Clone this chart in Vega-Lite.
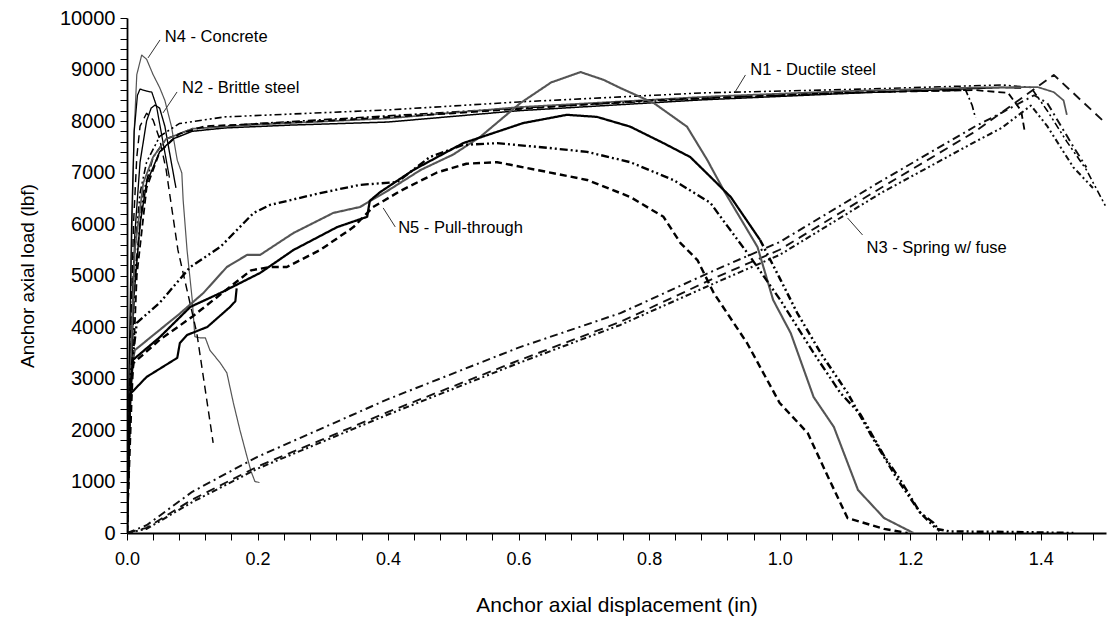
{
  "$schema": "https://vega.github.io/schema/vega-lite/v6.json",
  "width": 979,
  "height": 515,
  "autosize": {"type": "none"},
  "padding": {"left": 127, "top": 18, "right": 2, "bottom": 88},
  "background": "white",
  "config": {"view": {"stroke": null}},
  "datasets": {
    "curves": [
      {"s":"n4","x":0,"y":0},{"s":"n4","x":0.003,"y":2500},{"s":"n4","x":0.007,"y":5500},{"s":"n4","x":0.011,"y":7800},{"s":"n4","x":0.015,"y":8900},{"s":"n4","x":0.0225,"y":9280},{"s":"n4","x":0.03,"y":9200},{"s":"n4","x":0.04,"y":8900},{"s":"n4","x":0.05,"y":8650},{"s":"n4","x":0.058,"y":8400},{"s":"n4","x":0.068,"y":7900},{"s":"n4","x":0.077,"y":7240},{"s":"n4","x":0.084,"y":6990},{"s":"n4","x":0.086,"y":6470},{"s":"n4","x":0.092,"y":5495},{"s":"n4","x":0.1,"y":4525},{"s":"n4","x":0.104,"y":3810},{"s":"n4","x":0.112,"y":3790},{"s":"n4","x":0.12,"y":3790},{"s":"n4","x":0.127,"y":3550},{"s":"n4","x":0.143,"y":3300},{"s":"n4","x":0.153,"y":3110},{"s":"n4","x":0.163,"y":2525},{"s":"n4","x":0.173,"y":2000},{"s":"n4","x":0.184,"y":1475},{"s":"n4","x":0.19,"y":1200},{"s":"n4","x":0.196,"y":1000},{"s":"n4","x":0.203,"y":980},

      {"s":"n2a","x":0,"y":0},{"s":"n2a","x":0.003,"y":3000},{"s":"n2a","x":0.007,"y":6000},{"s":"n2a","x":0.011,"y":7800},{"s":"n2a","x":0.016,"y":8500},{"s":"n2a","x":0.02,"y":8620},{"s":"n2a","x":0.03,"y":8580},{"s":"n2a","x":0.038,"y":8560},{"s":"n2a","x":0.045,"y":8300},{"s":"n2a","x":0.055,"y":7600},{"s":"n2a","x":0.065,"y":6900},

      {"s":"n2b","x":0,"y":0},{"s":"n2b","x":0.005,"y":3000},{"s":"n2b","x":0.012,"y":5800},{"s":"n2b","x":0.02,"y":7200},{"s":"n2b","x":0.03,"y":8000},{"s":"n2b","x":0.037,"y":8250},{"s":"n2b","x":0.043,"y":8310},{"s":"n2b","x":0.05,"y":8250},{"s":"n2b","x":0.058,"y":7900},{"s":"n2b","x":0.065,"y":7400},{"s":"n2b","x":0.075,"y":6700},

      {"s":"n2c","x":0,"y":0},{"s":"n2c","x":0.005,"y":3500},{"s":"n2c","x":0.01,"y":6000},{"s":"n2c","x":0.015,"y":7300},{"s":"n2c","x":0.02,"y":7900},{"s":"n2c","x":0.03,"y":8150},{"s":"n2c","x":0.04,"y":8020},{"s":"n2c","x":0.05,"y":7650},{"s":"n2c","x":0.06,"y":7050},{"s":"n2c","x":0.078,"y":5496},{"s":"n2c","x":0.107,"y":3880},{"s":"n2c","x":0.132,"y":1750},

      {"s":"n1a","x":0,"y":0},{"s":"n1a","x":0.005,"y":2500},{"s":"n1a","x":0.01,"y":4500},{"s":"n1a","x":0.02,"y":6000},{"s":"n1a","x":0.03,"y":6800},{"s":"n1a","x":0.05,"y":7400},{"s":"n1a","x":0.07,"y":7650},{"s":"n1a","x":0.1,"y":7800},{"s":"n1a","x":0.15,"y":7865},{"s":"n1a","x":0.25,"y":7920},{"s":"n1a","x":0.4,"y":7980},{"s":"n1a","x":0.6,"y":8200},{"s":"n1a","x":0.88,"y":8410},{"s":"n1a","x":1.13,"y":8550},{"s":"n1a","x":1.34,"y":8650},{"s":"n1a","x":1.37,"y":8640},

      {"s":"n1b","x":0,"y":0},{"s":"n1b","x":0.005,"y":3000},{"s":"n1b","x":0.01,"y":5200},{"s":"n1b","x":0.02,"y":6600},{"s":"n1b","x":0.03,"y":7200},{"s":"n1b","x":0.05,"y":7700},{"s":"n1b","x":0.08,"y":7950},{"s":"n1b","x":0.15,"y":8080},{"s":"n1b","x":0.4,"y":8215},{"s":"n1b","x":0.6,"y":8370},{"s":"n1b","x":0.88,"y":8545},{"s":"n1b","x":1.13,"y":8620},{"s":"n1b","x":1.34,"y":8700},{"s":"n1b","x":1.385,"y":8650},{"s":"n1b","x":1.41,"y":8200},{"s":"n1b","x":1.44,"y":7600},{"s":"n1b","x":1.47,"y":7050},{"s":"n1b","x":1.5,"y":6330},

      {"s":"n1c","x":0,"y":0},{"s":"n1c","x":0.006,"y":2800},{"s":"n1c","x":0.012,"y":5000},{"s":"n1c","x":0.025,"y":6600},{"s":"n1c","x":0.04,"y":7300},{"s":"n1c","x":0.06,"y":7650},{"s":"n1c","x":0.1,"y":7850},{"s":"n1c","x":0.2,"y":7950},{"s":"n1c","x":0.4,"y":8100},{"s":"n1c","x":0.6,"y":8250},{"s":"n1c","x":0.9,"y":8450},{"s":"n1c","x":1.1,"y":8550},{"s":"n1c","x":1.285,"y":8600},{"s":"n1c","x":1.295,"y":8300},{"s":"n1c","x":1.3,"y":8060},

      {"s":"n1d","x":0,"y":0},{"s":"n1d","x":0.005,"y":3000},{"s":"n1d","x":0.012,"y":5500},{"s":"n1d","x":0.025,"y":6800},{"s":"n1d","x":0.04,"y":7300},{"s":"n1d","x":0.06,"y":7650},{"s":"n1d","x":0.1,"y":7850},{"s":"n1d","x":0.2,"y":7930},{"s":"n1d","x":0.4,"y":8050},{"s":"n1d","x":0.6,"y":8270},{"s":"n1d","x":0.9,"y":8480},{"s":"n1d","x":1.1,"y":8580},{"s":"n1d","x":1.3,"y":8650},{"s":"n1d","x":1.395,"y":8660},{"s":"n1d","x":1.42,"y":8560},{"s":"n1d","x":1.435,"y":8400},{"s":"n1d","x":1.44,"y":8120},

      {"s":"n1e","x":0,"y":0},{"s":"n1e","x":0.007,"y":2500},{"s":"n1e","x":0.015,"y":5000},{"s":"n1e","x":0.03,"y":6700},{"s":"n1e","x":0.05,"y":7400},{"s":"n1e","x":0.08,"y":7750},{"s":"n1e","x":0.12,"y":7900},{"s":"n1e","x":0.3,"y":8000},{"s":"n1e","x":0.5,"y":8150},{"s":"n1e","x":0.8,"y":8400},{"s":"n1e","x":1.1,"y":8550},{"s":"n1e","x":1.3,"y":8600},{"s":"n1e","x":1.35,"y":8545},{"s":"n1e","x":1.37,"y":8200},{"s":"n1e","x":1.375,"y":7830},

      {"s":"n3a","x":0,"y":0},{"s":"n3a","x":0.03,"y":100},{"s":"n3a","x":0.1,"y":650},{"s":"n3a","x":0.2,"y":1290},{"s":"n3a","x":0.4,"y":2350},{"s":"n3a","x":0.6,"y":3350},{"s":"n3a","x":0.756,"y":4100},{"s":"n3a","x":0.9,"y":4950},{"s":"n3a","x":1.0,"y":5500},{"s":"n3a","x":1.155,"y":6700},{"s":"n3a","x":1.3,"y":7800},{"s":"n3a","x":1.42,"y":8895},{"s":"n3a","x":1.5,"y":7950},

      {"s":"n3b","x":0,"y":0},{"s":"n3b","x":0.03,"y":150},{"s":"n3b","x":0.1,"y":800},{"s":"n3b","x":0.2,"y":1480},{"s":"n3b","x":0.4,"y":2600},{"s":"n3b","x":0.6,"y":3600},{"s":"n3b","x":0.756,"y":4270},{"s":"n3b","x":0.9,"y":5100},{"s":"n3b","x":1.0,"y":5650},{"s":"n3b","x":1.155,"y":6830},{"s":"n3b","x":1.3,"y":7900},{"s":"n3b","x":1.34,"y":8160},{"s":"n3b","x":1.39,"y":8500},{"s":"n3b","x":1.41,"y":8350},{"s":"n3b","x":1.45,"y":7500},{"s":"n3b","x":1.47,"y":7100},

      {"s":"n3c","x":0,"y":0},{"s":"n3c","x":0.03,"y":80},{"s":"n3c","x":0.1,"y":600},{"s":"n3c","x":0.2,"y":1250},{"s":"n3c","x":0.4,"y":2300},{"s":"n3c","x":0.6,"y":3300},{"s":"n3c","x":0.756,"y":4040},{"s":"n3c","x":0.9,"y":4850},{"s":"n3c","x":1.0,"y":5400},{"s":"n3c","x":1.155,"y":6600},{"s":"n3c","x":1.3,"y":7600},{"s":"n3c","x":1.34,"y":7865},{"s":"n3c","x":1.385,"y":8300},{"s":"n3c","x":1.41,"y":7900},{"s":"n3c","x":1.45,"y":7100},{"s":"n3c","x":1.48,"y":6700},

      {"s":"n5a","x":0,"y":0},{"s":"n5a","x":0.004,"y":2500},{"s":"n5a","x":0.008,"y":3300},{"s":"n5a","x":0.012,"y":3550},{"s":"n5a","x":0.04,"y":3840},{"s":"n5a","x":0.08,"y":4250},{"s":"n5a","x":0.117,"y":4660},{"s":"n5a","x":0.153,"y":5165},{"s":"n5a","x":0.184,"y":5400},{"s":"n5a","x":0.204,"y":5400},{"s":"n5a","x":0.255,"y":5825},{"s":"n5a","x":0.316,"y":6215},{"s":"n5a","x":0.357,"y":6330},{"s":"n5a","x":0.4,"y":6650},{"s":"n5a","x":0.45,"y":7050},{"s":"n5a","x":0.5,"y":7350},{"s":"n5a","x":0.541,"y":7690},{"s":"n5a","x":0.603,"y":8350},{"s":"n5a","x":0.65,"y":8750},{"s":"n5a","x":0.695,"y":8950},{"s":"n5a","x":0.73,"y":8800},{"s":"n5a","x":0.756,"y":8640},{"s":"n5a","x":0.807,"y":8350},{"s":"n5a","x":0.858,"y":7890},{"s":"n5a","x":0.889,"y":7245},{"s":"n5a","x":0.914,"y":6660},{"s":"n5a","x":0.966,"y":5555},{"s":"n5a","x":0.99,"y":4525},{"s":"n5a","x":1.017,"y":3880},{"s":"n5a","x":1.052,"y":2640},{"s":"n5a","x":1.083,"y":2060},{"s":"n5a","x":1.12,"y":835},{"s":"n5a","x":1.16,"y":290},{"s":"n5a","x":1.205,"y":0},

      {"s":"n5b","x":0,"y":0},{"s":"n5b","x":0.003,"y":2000},{"s":"n5b","x":0.005,"y":2700},{"s":"n5b","x":0.03,"y":3030},{"s":"n5b","x":0.077,"y":3400},{"s":"n5b","x":0.081,"y":3690},{"s":"n5b","x":0.092,"y":3845},{"s":"n5b","x":0.123,"y":4000},{"s":"n5b","x":0.158,"y":4390},{"s":"n5b","x":0.166,"y":4500},{"s":"n5b","x":0.168,"y":4750},

      {"s":"n5c","x":0,"y":0},{"s":"n5c","x":0.004,"y":2500},{"s":"n5c","x":0.009,"y":3360},{"s":"n5c","x":0.05,"y":3800},{"s":"n5c","x":0.097,"y":4390},{"s":"n5c","x":0.143,"y":4660},{"s":"n5c","x":0.204,"y":5050},{"s":"n5c","x":0.255,"y":5495},{"s":"n5c","x":0.322,"y":5940},{"s":"n5c","x":0.368,"y":6140},{"s":"n5c","x":0.372,"y":6450},{"s":"n5c","x":0.388,"y":6620},{"s":"n5c","x":0.439,"y":7050},{"s":"n5c","x":0.515,"y":7570},{"s":"n5c","x":0.607,"y":7960},{"s":"n5c","x":0.674,"y":8120},{"s":"n5c","x":0.72,"y":8080},{"s":"n5c","x":0.771,"y":7890},{"s":"n5c","x":0.822,"y":7570},{"s":"n5c","x":0.863,"y":7300},{"s":"n5c","x":0.894,"y":6915},{"s":"n5c","x":0.925,"y":6525},{"s":"n5c","x":0.97,"y":5690},

      {"s":"n5f","x":0.97,"y":5690},{"s":"n5f","x":1.0,"y":4950},{"s":"n5f","x":1.027,"y":4270},{"s":"n5f","x":1.065,"y":3450},{"s":"n5f","x":1.104,"y":2720},{"s":"n5f","x":1.14,"y":1900},{"s":"n5f","x":1.18,"y":1050},{"s":"n5f","x":1.215,"y":400},{"s":"n5f","x":1.24,"y":80},{"s":"n5f","x":1.26,"y":30},{"s":"n5f","x":1.35,"y":20},{"s":"n5f","x":1.45,"y":0},

      {"s":"n5d","x":0,"y":0},{"s":"n5d","x":0.005,"y":3000},{"s":"n5d","x":0.015,"y":4080},{"s":"n5d","x":0.05,"y":4470},{"s":"n5d","x":0.097,"y":5165},{"s":"n5d","x":0.143,"y":5555},{"s":"n5d","x":0.194,"y":6215},{"s":"n5d","x":0.219,"y":6370},{"s":"n5d","x":0.296,"y":6600},{"s":"n5d","x":0.357,"y":6760},{"s":"n5d","x":0.414,"y":6815},{"s":"n5d","x":0.464,"y":7300},{"s":"n5d","x":0.515,"y":7535},{"s":"n5d","x":0.567,"y":7570},{"s":"n5d","x":0.644,"y":7480},{"s":"n5d","x":0.705,"y":7400},{"s":"n5d","x":0.771,"y":7200},{"s":"n5d","x":0.837,"y":6855},{"s":"n5d","x":0.894,"y":6410},{"s":"n5d","x":0.905,"y":6215},{"s":"n5d","x":0.955,"y":5360},{"s":"n5d","x":1.001,"y":4525},{"s":"n5d","x":1.052,"y":3495},{"s":"n5d","x":1.093,"y":2720},{"s":"n5d","x":1.124,"y":2300},{"s":"n5d","x":1.16,"y":1500},{"s":"n5d","x":1.185,"y":1030},{"s":"n5d","x":1.215,"y":400},{"s":"n5d","x":1.236,"y":195},{"s":"n5d","x":1.247,"y":0},

      {"s":"n5e","x":0,"y":0},{"s":"n5e","x":0.005,"y":2800},{"s":"n5e","x":0.01,"y":3300},{"s":"n5e","x":0.05,"y":3750},{"s":"n5e","x":0.1,"y":4200},{"s":"n5e","x":0.15,"y":4700},{"s":"n5e","x":0.19,"y":5100},{"s":"n5e","x":0.219,"y":5165},{"s":"n5e","x":0.245,"y":5165},{"s":"n5e","x":0.296,"y":5495},{"s":"n5e","x":0.347,"y":5940},{"s":"n5e","x":0.377,"y":6330},{"s":"n5e","x":0.42,"y":6650},{"s":"n5e","x":0.475,"y":7000},{"s":"n5e","x":0.52,"y":7170},{"s":"n5e","x":0.567,"y":7200},{"s":"n5e","x":0.644,"y":7010},{"s":"n5e","x":0.705,"y":6855},{"s":"n5e","x":0.771,"y":6525},{"s":"n5e","x":0.822,"y":6140},{"s":"n5e","x":0.848,"y":5630},{"s":"n5e","x":0.874,"y":5300},{"s":"n5e","x":0.899,"y":4660},{"s":"n5e","x":0.95,"y":3690},{"s":"n5e","x":1.0,"y":2525},{"s":"n5e","x":1.043,"y":1940},{"s":"n5e","x":1.07,"y":1200},{"s":"n5e","x":1.104,"y":290},{"s":"n5e","x":1.124,"y":215},{"s":"n5e","x":1.16,"y":80},{"s":"n5e","x":1.196,"y":0}
    ],
    "labels": [
      {"t":"N4 - Concrete","x":0.058,"y":9632},
      {"t":"N2 - Brittle steel","x":0.0843,"y":8642},
      {"t":"N1 - Ductile steel","x":0.955,"y":8991},
      {"t":"N5 - Pull-through","x":0.4155,"y":5923},
      {"t":"N3 - Spring w/ fuse","x":1.133,"y":5535}
    ],
    "leaders": [
      {"x":0.0506,"y":9574,"x2":0.0322,"y2":9225},
      {"x":0.0767,"y":8564,"x2":0.0552,"y2":8157},
      {"x":0.9476,"y":8894,"x2":0.932,"y2":8570},
      {"x":0.3925,"y":6312,"x2":0.411,"y2":5943},
      {"x":1.104,"y":6117,"x2":1.127,"y2":5787}
    ]
  },
  "layer": [
    {
      "data": {"name": "curves"},
      "mark": {"type": "line", "clip": true, "strokeCap": "butt", "strokeJoin": "round"},
      "encoding": {
        "x": {
          "field": "x", "type": "quantitative",
          "scale": {"domain": [0, 1.5], "nice": false, "zero": false},
          "axis": {
            "title": "Anchor axial displacement (in)",
            "values": [0,0.04,0.08,0.12,0.16,0.2,0.24,0.28,0.32,0.36,0.4,0.44,0.48,0.52,0.56,0.6,0.64,0.68,0.72,0.76,0.8,0.84,0.88,0.92,0.96,1,1.04,1.08,1.12,1.16,1.2,1.24,1.28,1.32,1.36,1.4,1.44,1.48],
            "tickCount": 100,
            "labelExpr": "abs(datum.value*5-round(datum.value*5))<0.01 ? format(datum.value,'.1f') : ''",
            "labelOverlap": false, "labelFlush": false,
            "grid": false, "tickSize": 7, "tickColor": "black", "tickWidth": 1,
            "domainColor": "black", "domainWidth": 1.8,
            "labelFont": "Liberation Sans Narrow, Liberation Sans, Arial", "labelFontSize": 18, "labelColor": "black", "labelPadding": 10,
            "titleFont": "Liberation Sans Narrow, Liberation Sans, Arial", "titleFontSize": 21, "titleFontWeight": "normal", "titleColor": "black", "titlePadding": 26
          }
        },
        "y": {
          "field": "y", "type": "quantitative",
          "scale": {"domain": [0, 10000], "nice": false},
          "axis": {
            "title": "Anchor axial load (lbf)",
            "values": [0,200,400,600,800,1000,1200,1400,1600,1800,2000,2200,2400,2600,2800,3000,3200,3400,3600,3800,4000,4200,4400,4600,4800,5000,5200,5400,5600,5800,6000,6200,6400,6600,6800,7000,7200,7400,7600,7800,8000,8200,8400,8600,8800,9000,9200,9400,9600,9800,10000],
            "tickCount": 100,
            "labelExpr": "datum.value % 1000 == 0 ? format(datum.value,'d') : ''",
            "labelOverlap": false, "labelFlush": false,
            "grid": false, "tickSize": 7, "tickColor": "black", "tickWidth": 1,
            "domainColor": "black", "domainWidth": 1.8,
            "labelFont": "Liberation Sans, Arial", "labelFontSize": 20, "labelColor": "black", "labelPadding": 5,
            "titleFont": "Liberation Sans, Arial", "titleFontSize": 19, "titleFontWeight": "normal", "titleColor": "black", "titlePadding": 22
          }
        },
        "color": {
          "field": "s", "type": "nominal", "legend": null,
          "scale": {
            "domain": ["n4","n2a","n2b","n2c","n1a","n1b","n1c","n1d","n1e","n3a","n3b","n3c","n5a","n5b","n5c","n5d","n5e","n5f"],
            "range": ["#555555","#000000","#000000","#000000","#000000","#000000","#000000","#555555","#000000","#111111","#111111","#111111","#555555","#000000","#000000","#000000","#000000","#000000"]
          }
        },
        "strokeDash": {
          "field": "s", "type": "nominal", "legend": null,
          "scale": {
            "domain": ["n4","n2a","n2b","n2c","n1a","n1b","n1c","n1d","n1e","n3a","n3b","n3c","n5a","n5b","n5c","n5d","n5e","n5f"],
            "range": [[1,0],[1,0],[1,0],[8,5],[1,0],[7,3,2,3,2,3],[8,3,2,3],[1,0],[7,4],[9,6],[8,4,2,4],[6,3,2,3,2,3],[1,0],[1,0],[1,0],[8,3,2,3,2,3],[7,4],[7,3,2,3,2,3]]
          }
        },
        "strokeWidth": {
          "field": "s", "type": "nominal", "legend": null,
          "scale": {
            "domain": ["n4","n2a","n2b","n2c","n1a","n1b","n1c","n1d","n1e","n3a","n3b","n3c","n5a","n5b","n5c","n5d","n5e","n5f"],
            "range": [1.2,2.5,2.5,1.5,2.5,1.8,1.8,1.2,1.6,1.3,1.5,1.5,1.2,2.5,2.5,1.8,1.6,1.8]
          }
        },
        "order": {"value": null}
      }
    },
    {
      "data": {"name": "leaders"},
      "mark": {"type": "rule", "color": "#333333", "strokeWidth": 1},
      "encoding": {
        "x": {"field": "x", "type": "quantitative"},
        "y": {"field": "y", "type": "quantitative"},
        "x2": {"field": "x2"},
        "y2": {"field": "y2"}
      }
    },
    {
      "data": {"name": "labels"},
      "mark": {"type": "text", "align": "left", "baseline": "middle", "font": "Liberation Sans, Arial", "fontSize": 16.5, "color": "black"},
      "encoding": {
        "x": {"field": "x", "type": "quantitative"},
        "y": {"field": "y", "type": "quantitative"},
        "text": {"field": "t"}
      }
    }
  ]
}
